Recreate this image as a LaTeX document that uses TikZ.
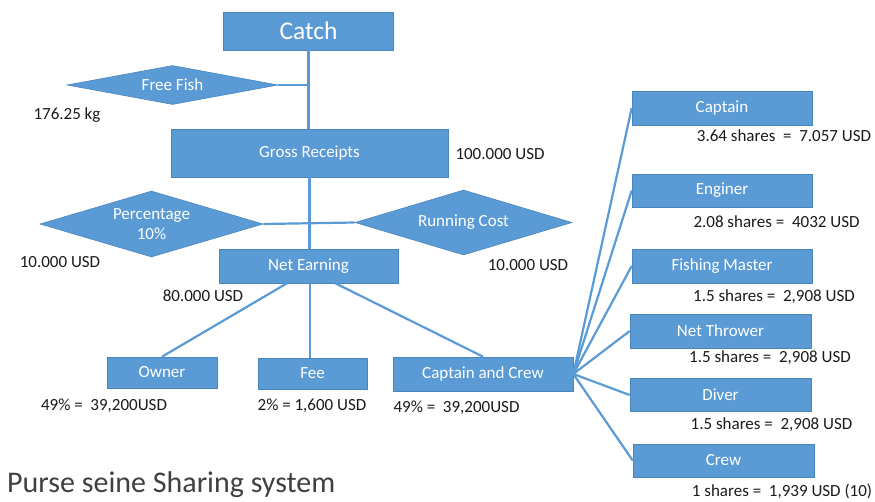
\documentclass[tikz,border=0pt]{standalone}
\usepackage{fontspec}
\setmainfont{Carlito}
\usetikzlibrary{shapes.geometric,calc}
\definecolor{boxblue}{HTML}{5B9BD5}
\definecolor{boxedge}{HTML}{4A86BE}
\definecolor{labtext}{HTML}{1A1A1A}
\tikzset{
  box/.style={rectangle, fill=boxblue, draw=boxedge, line width=0.6pt, text=white,
    font=\fontsize{17}{19}\selectfont, inner sep=0pt},
  dia/.style={diamond, fill=boxblue, draw=boxedge, line width=0.6pt, text=white,
    font=\fontsize{17}{20}\selectfont, inner sep=0pt, align=center},
  lab/.style={text=labtext, font=\fontsize{17}{19}\selectfont, inner sep=0pt},
  conn/.style={draw=boxblue, line width=2.2pt},
}
\begin{document}
\begin{tikzpicture}[x=1pt,y=-1pt]
\useasboundingbox (0,0) rectangle (875,501);
% boxes
\node[box, minimum width=170pt, minimum height=38pt, font=\fontsize{25.5}{28}\selectfont] (catch) at (308.5,31) {Catch};
\node[box, minimum width=277pt, minimum height=48pt] (gross) at (309.5,153) {Gross Receipts};
\node[box, minimum width=179pt, minimum height=34pt] (ne) at (308.5,266) {Net Earning};
\node[box, minimum width=110pt, minimum height=31pt] (owner) at (162,372.5) {Owner};
\node[box, minimum width=109pt, minimum height=31pt] (fee) at (312.5,373.5) {Fee};
\node[box, minimum width=180pt, minimum height=34pt] (cc) at (483,374) {Captain and Crew};
\node[box, minimum width=180pt, minimum height=34pt] (captain) at (722,108) {Captain};
\node[box, minimum width=180pt, minimum height=33pt] (enginer) at (722,190.5) {Enginer};
\node[box, minimum width=180pt, minimum height=34pt] (fm) at (722,266) {Fishing Master};
\node[box, minimum width=181pt, minimum height=34pt] (nt) at (720.5,331) {Net Thrower};
\node[box, minimum width=181pt, minimum height=33pt] (diver) at (720.5,395) {Diver};
\node[box, minimum width=181pt, minimum height=33pt] (crew) at (723.5,460.5) {Crew};
% diamonds
\node[dia, minimum width=211pt, minimum height=39pt, aspect=5.4] (ff) at (172.5,85) {Free Fish};
\node[dia, minimum width=223pt, minimum height=66pt, aspect=3.4] (perc) at (151.5,224) {Percentage\\10\%};
\node[dia, minimum width=217pt, minimum height=65pt, aspect=3.4] (run) at (463.5,222.5) {Running Cost};
% connectors
\draw[conn] (catch.south) -- (catch.south |- gross.north);
\draw[conn] (ff.east) -- (ff.east -| catch.south);
\draw[conn] (gross.south) -- (gross.south |- ne.north);
\draw[conn] (perc.east) -- (run.west);
\draw[conn] ($(ne.south west)!0.38!(ne.south east)$) -- (owner.north);
\draw[conn] (ne.south -| 310,0) -- (fee.north -| 310,0);
\draw[conn] ($(ne.south west)!0.65!(ne.south east)$) -- (cc.north);
\foreach \t in {captain,enginer,fm,nt,diver,crew}{
  \draw[conn] (cc.east) -- (\t.west);
}
% labels
\node[lab] (l1) at (67,115) {176.25 kg};
\node[lab] (l2) at (500,154) {100.000 USD};
\node[lab] (l3) at (60,262) {10.000 USD};
\node[lab] (l4) at (528,265) {10.000 USD};
\node[lab] (l5) at (203,296) {80.000 USD};
\node[lab] (l6) at (104,406) {49\% =~~39,200USD};
\node[lab] (l7) at (312,406) {2\% = 1,600 USD};
\node[lab] (l8) at (456.5,408) {49\% =~~39,200USD};
\node[lab] (l9) at (784,136) {3.64 shares~~=~~7.057 USD};
\node[lab] (l10) at (776.5,222) {2.08 shares =~~4032 USD};
\node[lab] (l11) at (774,297) {1.5 shares =~~2,908 USD};
\node[lab] (l12) at (770,358) {1.5 shares =~~2,908 USD};
\node[lab] (l13) at (771.5,425) {1.5 shares =~~2,908 USD};
\node[lab] (l14) at (782,491) {1 shares =~~1,939 USD (10)};
\node[lab, anchor=west, text=black!75, font=\fontsize{30}{32}\selectfont] (title) at (7,485) {Purse seine Sharing system};
\end{tikzpicture}
\end{document}
